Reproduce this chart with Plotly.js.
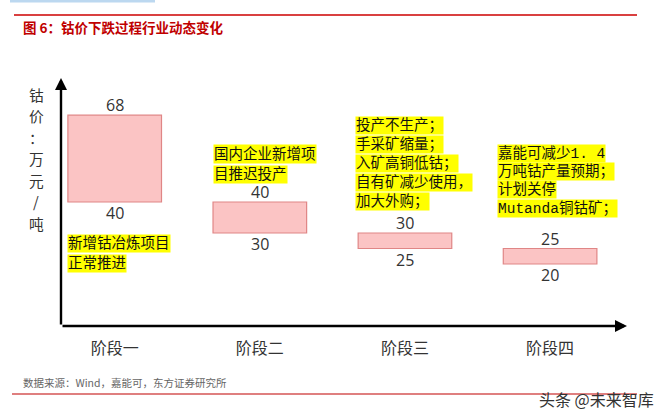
<!DOCTYPE html>
<html>
<head>
<meta charset="utf-8">
<script src="https://cdn.plot.ly/plotly-3.0.1.min.js"></script>
<style>html,body{margin:0;padding:0;background:#fff;}#chart{width:665px;height:419px;}</style>
</head>
<body>
<div id="chart"></div>
<script>
// ---- data ----
const categories = ['阶段一', '阶段二', '阶段三', '阶段四'];
const highs = [68, 40, 30, 25];
const lows = [40, 30, 25, 20];
const notes = [
  ['新增钴冶炼项目', '正常推进'],
  ['国内企业新增项', '目推迟投产'],
  ['投产不生产；', '手采矿缩量；', '入矿高铜低钴；', '自有矿减少使用，', '加大外购；'],
  ['嘉能可减少1. 4', '万吨钴产量预期；', '计划关停', 'Mutanda铜钴矿；']
];
const titleText = '图 6：钴价下跌过程行业动态变化';
const yTitleChars = ['钴', '价', '：', '万', '元', '/', '吨'];
const sourceText = '数据来源：Wind，嘉能可，东方证券研究所';
const watermark = '头条 @未来智库';

// ---- layout helpers (pixels -> paper) ----
const L = 61, R = 627, T = 78, B = 326;
const W = R - L, H = B - T;
const px = x => (x - L) / W;
const py = y => (B - y) / H;

const annotations = [];
// value labels
categories.forEach((c, i) => {
  annotations.push({x: i, y: highs[i], xref: 'x', yref: 'y', text: String(highs[i]), showarrow: false,
    yanchor: 'middle', yshift: 10, font: {family: 'Open Sans, sans-serif', size: 16, color: '#333'}});
  annotations.push({x: i, y: lows[i], xref: 'x', yref: 'y', text: String(lows[i]), showarrow: false,
    yanchor: 'middle', yshift: -11, font: {family: 'Open Sans, sans-serif', size: 16, color: '#333'}});
});
// highlighted notes
const noteLeft = [67, 213, 355, 497];
const noteTop = [243, 154, 125, 153];
const noteGap = [20, 20, 19, 18.4];
notes.forEach((lines, i) => {
  lines.forEach((ln, j) => {
    annotations.push({x: px(noteLeft[i]), y: py(noteTop[i] + j * noteGap[i]), xref: 'paper', yref: 'paper',
      text: ln, showarrow: false, xanchor: 'left', yanchor: 'middle', bgcolor: '#ffff00', borderpad: 0,
      font: {family: 'Liberation Mono, Noto Sans CJK SC, sans-serif', size: 14.5, color: '#111'}});
  });
});
// y title (vertical, one char per annotation)
const yTitleY = [94, 115.5, 137, 158.5, 180, 201.5, 223];
yTitleChars.forEach((ch, k) => {
  annotations.push({x: px(36), y: py(yTitleY[k]), xref: 'paper', yref: 'paper', text: ch,
    showarrow: false, xanchor: 'center', yanchor: 'middle',
    font: {family: 'Noto Sans CJK SC, sans-serif', size: 14.7, color: '#333'}});
});
// axis arrows
annotations.push({x: 1, y: 0, xref: 'paper', yref: 'paper', text: '', showarrow: true, ax: -W, ay: 0,
  arrowhead: 2, arrowsize: 1, arrowwidth: 2.4, arrowcolor: '#000'});
annotations.push({x: 0, y: 1, xref: 'paper', yref: 'paper', text: '', showarrow: true, ax: 0, ay: H,
  arrowhead: 2, arrowsize: 1, arrowwidth: 2.4, arrowcolor: '#000'});
// title, source, watermark
annotations.push({x: px(21), y: py(27), xref: 'paper', yref: 'paper', text: '<b>' + titleText + '</b>',
  showarrow: false, xanchor: 'left', yanchor: 'middle',
  font: {family: 'Noto Sans CJK SC, sans-serif', size: 13.5, color: '#c00000'}});
annotations.push({x: px(21), y: py(382), xref: 'paper', yref: 'paper', text: sourceText,
  showarrow: false, xanchor: 'left', yanchor: 'middle',
  font: {family: 'Noto Sans CJK SC, sans-serif', size: 10.5, color: '#666'}});
annotations.push({x: px(656), y: py(399), xref: 'paper', yref: 'paper', text: watermark,
  showarrow: false, xanchor: 'right', yanchor: 'middle',
  font: {family: 'Noto Sans CJK SC, sans-serif', size: 16, color: '#333'}});

const shapes = [
  {type: 'line', xref: 'paper', yref: 'paper', x0: px(14), x1: px(637), y0: py(15), y1: py(15),
    line: {color: '#d94040', width: 1.8}},
  {type: 'rect', xref: 'paper', yref: 'paper', x0: px(10), x1: px(155), y0: py(0), y1: py(2.5),
    fillcolor: '#bcd8f0', line: {width: 0}},
  {type: 'line', xref: 'paper', yref: 'paper', x0: px(12), x1: px(637), y0: py(394), y1: py(394),
    line: {color: '#c00000', width: 1.2}, layer: 'below'}
];

const trace = {
  type: 'bar',
  x: categories,
  y: highs.map((h, i) => h - lows[i]),
  base: lows,
  width: 0.645,
  marker: {color: '#fbc4c4', line: {color: '#e08686', width: 1.2}},
  hoverinfo: 'skip'
};

const layout = {
  width: 665, height: 419,
  margin: {l: L, r: 665 - R, t: T, b: 419 - B, pad: 0},
  paper_bgcolor: '#fff', plot_bgcolor: '#fff',
  showlegend: false,
  xaxis: {type: 'category', range: [-0.37, 3.53], showline: false, showgrid: false, zeroline: false,
    ticks: '', ticklabelstandoff: 11,
    tickfont: {family: 'Noto Sans CJK SC, sans-serif', size: 16, color: '#333'}},
  yaxis: {range: [0, 80], showline: false, showgrid: false, zeroline: false, showticklabels: false, ticks: ''},
  annotations: annotations,
  shapes: shapes
};

Plotly.newPlot('chart', [trace], layout, {displayModeBar: false, staticPlot: true});
</script>
</body>
</html>
